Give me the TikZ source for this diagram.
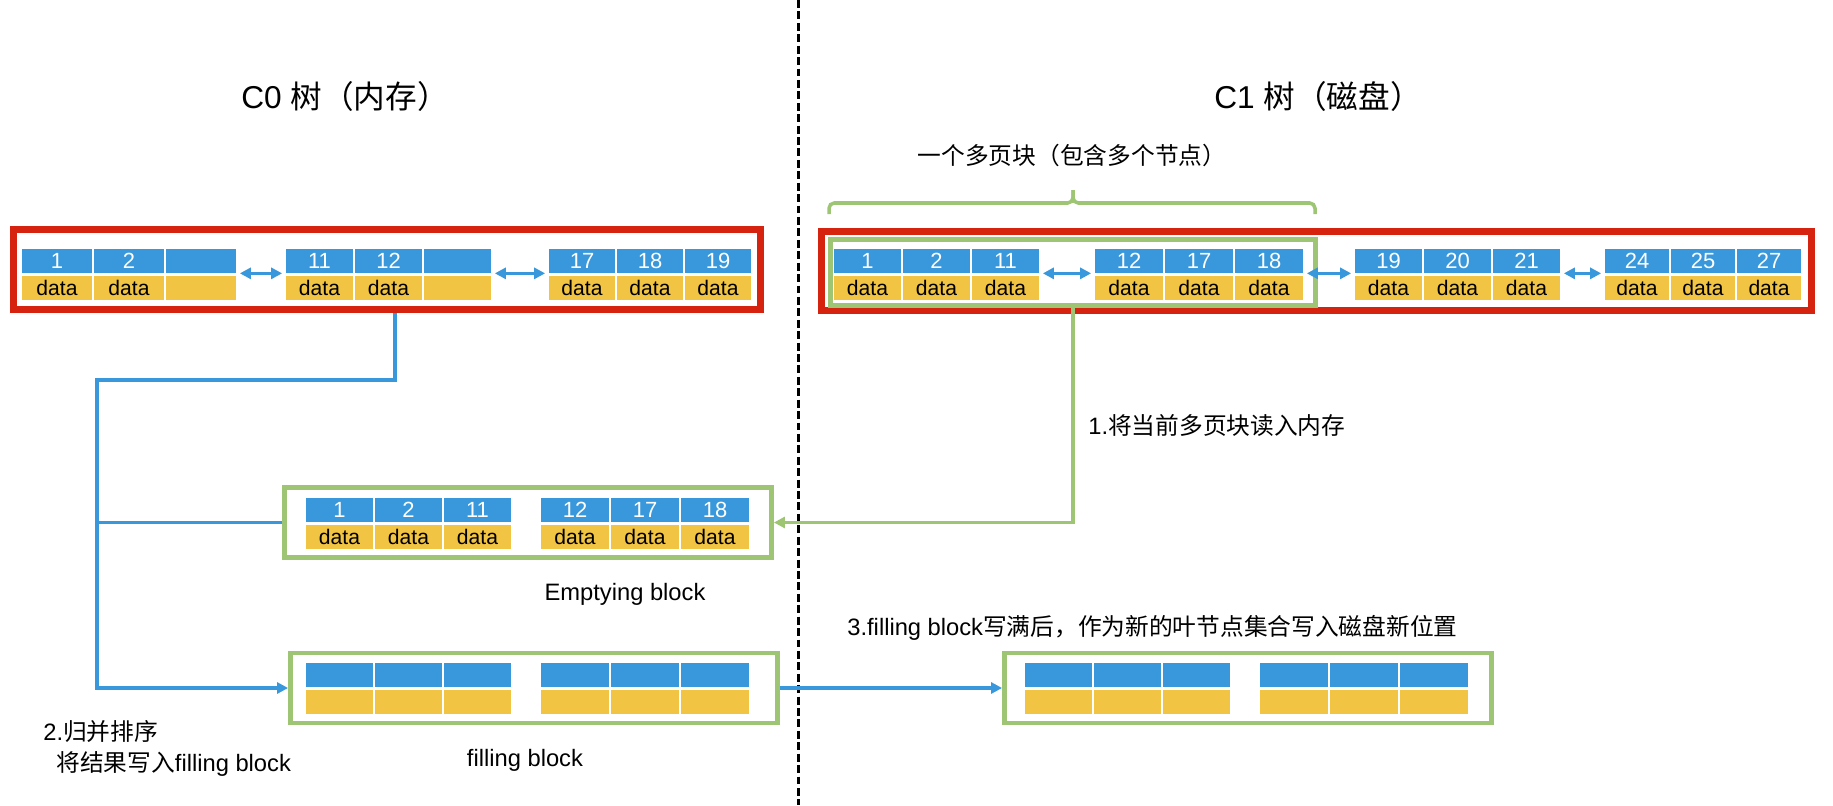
\documentclass[tikz,border=0pt]{standalone}
\usepackage{fontspec}
\setmainfont{Liberation Sans}
\newfontfamily\cjk{Noto Sans CJK SC}
\usepackage{tikz}
\usetikzlibrary{calc, positioning, arrows.meta}
\usepackage{xcolor}
\definecolor{keyblue}{RGB}{56, 152, 219}
\definecolor{datayellow}{RGB}{241, 196, 67}
\definecolor{treered}{RGB}{214, 35, 16}
\definecolor{blockgreen}{RGB}{157, 197, 115}

% one leaf page: #1 name, #2 left x, #3 top y, #4 cell width, #5 key/data pairs
\newcommand{\leafpage}[5]{%
  \foreach \kv/\dv [count=\i] in {#5} {
    \node[keycell, minimum width=#4*0.02cm] (#1k\i) at ({#2+(\i-1)*(#4+2)+#4/2}, {#3+12}) {\kv};
    \node[datacell, minimum width=#4*0.02cm, below=0.04cm of #1k\i] (#1d\i) {\dv};
  }%
}

\begin{document}
\begin{tikzpicture}[
  x=0.02cm, y=-0.02cm,
  keycell/.style={rectangle, fill=keyblue, text=white, minimum height=0.48cm, inner sep=0pt, font=\fontsize{12.5}{12}\selectfont},
  datacell/.style={rectangle, fill=datayellow, text=black, minimum height=0.48cm, inner sep=0pt, font=\fontsize{12}{12}\selectfont},
  treebox/.style={draw=treered, line width=4pt, inner sep=0pt},
  blockbox/.style={draw=blockgreen, line width=2.8pt, inner sep=0pt, minimum width=9.74cm, minimum height=1.4cm},
  link/.style={draw=keyblue, line width=2pt},
  readline/.style={draw=blockgreen, line width=2pt},
  divider/.style={draw=black, line width=1.7pt, dash pattern=on 4.5pt off 2pt},
  note/.style={inner sep=0pt, font=\fontsize{13.5}{17.5}\selectfont},
  heading/.style={inner sep=0pt, font=\fontsize{18}{20}\selectfont},
  >={Triangle[length=0.22cm, width=0.22cm]}
]
  \useasboundingbox (0,0) rectangle (1833,805);

  % --- divider between memory and disk ---
  \coordinate (divtop) at (798,0);
  \coordinate (divbot) at (798,805);
  \draw[divider] (divtop) -- (divbot);

  \node[heading] (c0title) at (345,96) {C0 {\cjk 树（内存）}};
  \node[heading] (c1title) at (1318,96) {C1 {\cjk 树（磁盘）}};

  % --- C0 tree (memory) ---
  \node[treebox, minimum width=14.94cm, minimum height=1.6cm] (c0tree) at (387,269.5) {};
  \leafpage{c0a}{22}{249}{70}{1/data, 2/data, {}/{}}
  \leafpage{c0b}{286}{249}{67}{11/data, 12/data, {}/{}}
  \leafpage{c0c}{549}{249}{66}{17/data, 18/data, 19/data}
  \draw[link, <->, shorten <=2pt, shorten >=2pt] (c0ak3.south east) -- (c0bk1.south west);
  \draw[link, <->, shorten <=2pt, shorten >=2pt] (c0bk3.south east) -- (c0ck1.south west);

  % --- C1 tree (disk) ---
  \node[treebox, minimum width=19.8cm, minimum height=1.58cm] (c1tree) at (1316.5,271) {};
  \node[blockbox, minimum width=9.7cm, minimum height=1.32cm] (multipage) at (1073,272.5) {};
  \leafpage{c1a}{834}{249}{67}{1/data, 2/data, 11/data}
  \leafpage{c1b}{1095}{249}{68}{12/data, 17/data, 18/data}
  \leafpage{c1c}{1355}{249}{67}{19/data, 20/data, 21/data}
  \leafpage{c1d}{1605}{249}{64}{24/data, 25/data, 27/data}
  \draw[link, <->, shorten <=2pt, shorten >=2pt] (c1ak3.south east) -- (c1bk1.south west);
  \draw[link, <->, shorten <=2pt, shorten >=2pt] (c1bk3.south east) -- (c1ck1.south west);
  \draw[link, <->, shorten <=2pt, shorten >=2pt] (c1ck3.south east) -- (c1dk1.south west);

  % bracket over the multi-page block
  \coordinate (brleft) at (829,214);
  \coordinate (brright) at (1315,214);
  \coordinate (brtip) at (1073,190);
  \draw[readline, rounded corners=3pt] (brleft) |- (brtip |- 0,203) -- (brtip);
  \draw[readline, rounded corners=3pt] (brright) |- (brtip |- 0,203) -- (brtip);
  \node[note] (mpnote) at (1072,155) {{\cjk 一个多页块（包含多个节点）}};

  % --- emptying and filling blocks ---
  \node[blockbox] (emptying) at (528,522.5) {};
  \leafpage{ema}{306}{498}{67}{1/data, 2/data, 11/data}
  \leafpage{emb}{541}{498}{68}{12/data, 17/data, 18/data}
  \node[note] (emptynote) at (625,594) {Emptying block};

  \node[blockbox] (filling) at (534,688) {};
  \leafpage{fia}{306}{663}{67}{{}/{}, {}/{}, {}/{}}
  \leafpage{fib}{541}{663}{68}{{}/{}, {}/{}, {}/{}}
  \node[note] (fillnote) at (525,760) {filling block};

  \node[blockbox] (newleaf) at (1248,688) {};
  \leafpage{nla}{1025}{663}{67}{{}/{}, {}/{}, {}/{}}
  \leafpage{nlb}{1260}{663}{68}{{}/{}, {}/{}, {}/{}}

  % --- step 1: read block into memory ---
  \draw[readline, ->] (multipage.south) |- (emptying.east);
  \node[note, anchor=west] (step1) at (1088,425) {1.{\cjk 将当前多页块读入内存}};

  % --- step 2: merge sort into filling block ---
  \coordinate (mergetop) at (395,380);
  \coordinate (mergeleft) at (97,380);
  \draw[link, ->] (c0tree.south -| mergetop) -- (mergetop) -- (mergeleft) |- (filling.west);
  \draw[link] (mergeleft |- emptying.west) -- (emptying.west);
  \node[note, anchor=north west, align=left] (step2) at (43,720)
    {2.{\cjk 归并排序}\\\hspace*{0.26cm}{\cjk 将结果写入}filling block};

  % --- step 3: write full block to disk ---
  \draw[link, ->] (filling.east) -- (newleaf.west);
  \node[note, anchor=west] (step3) at (847,628)
    {3.filling block{\cjk 写满后，作为新的叶节点集合写入磁盘新位置}};
\end{tikzpicture}
\end{document}
